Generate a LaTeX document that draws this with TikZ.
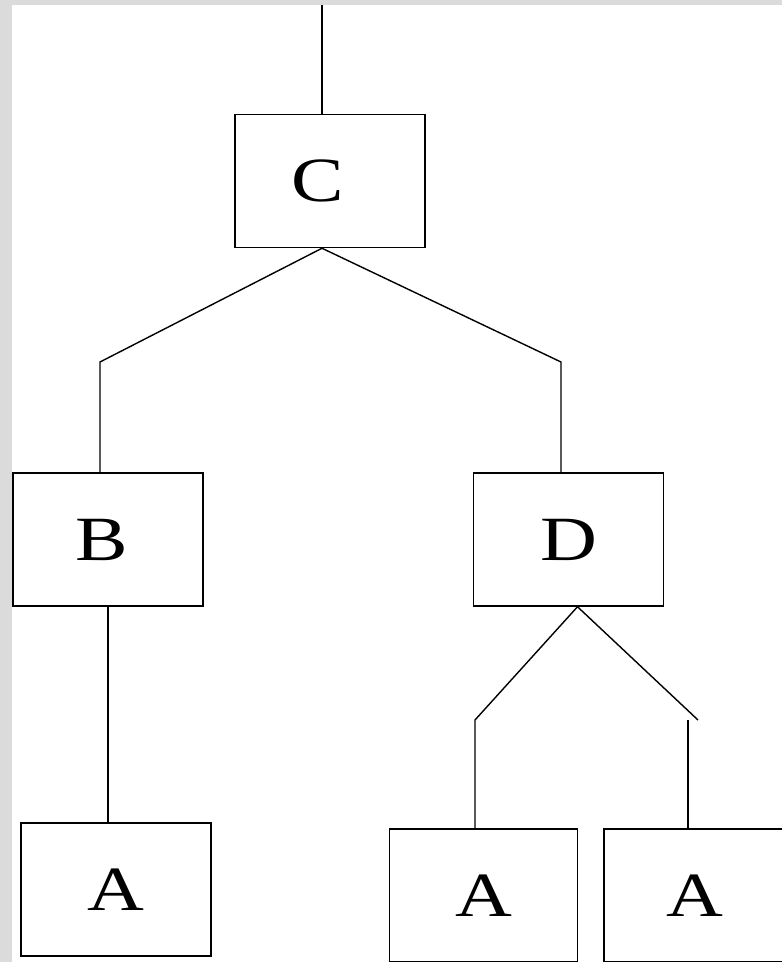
\documentclass[tikz,border=0pt]{standalone}
\usepackage{fontspec}
\usepackage{graphicx}
\setmainfont{Liberation Serif}
\usetikzlibrary{positioning, calc}
\newcommand{\wide}[1]{\scalebox{1.25}[1]{#1}}
\tikzset{
    box/.style={draw, line width=1.5pt, fill=white, minimum width=190pt,
        minimum height=133pt, inner sep=0pt, font=\fontsize{63}{70}\selectfont},
    edge/.style={line width=1.4pt},
    frame/.style={fill=gray!28},
}
\begin{document}
\begin{tikzpicture}[x=1pt, y=-1pt]
        % Rahmen
        \useasboundingbox (0,0) rectangle (782,962);
        \clip (0,0) rectangle (782,962);
        \fill[frame] (0,0) rectangle (782,962);
        \fill[white] (12,5) rectangle (782,962);

        % Knoten
        \node[box] (C)  at (330,181)   {\hspace*{-24pt}\wide{C}};
        \node[box] (B)  at (108,539.5) {\hspace*{-12pt}\wide{B}};
        \node[box] (D)  at (568.5,539.5) {\wide{D}};
        \node[box] (A1) at (116,889.5) {\wide{A}};
        \node[box, minimum width=188pt] (A2) at (483.5,895.5) {\wide{A}};
        \node[box] (A3) at (699,895.5) {\hspace*{-8pt}\wide{A}};

        % Knickpunkte
        \coordinate (top) at (322,5);
        \coordinate (cl) at (100,362);
        \coordinate (cr) at (561,362);
        \coordinate (dl) at (475,720);
        \coordinate (dr) at (698,720);
        \coordinate (dv) at (688,720);

        % Kanten
        \draw[edge] (top) -- (C.north -| top);
        \draw[edge] (C.south -| top) -- (cl) -- (B.north -| cl);
        \draw[edge] (C.south -| top) -- (cr) -- (D.north -| cr);
        \draw[edge] (B.south) -- (A1.north -| B.south);
        \draw[edge] ($(D.south)+(9,0)$) -- (dl) -- (A2.north -| dl);
        \draw[edge] ($(D.south)+(9,0)$) -- (dr);
        \draw[edge] (dv) -- (A3.north -| dv);
    \end{tikzpicture}
\end{document}
